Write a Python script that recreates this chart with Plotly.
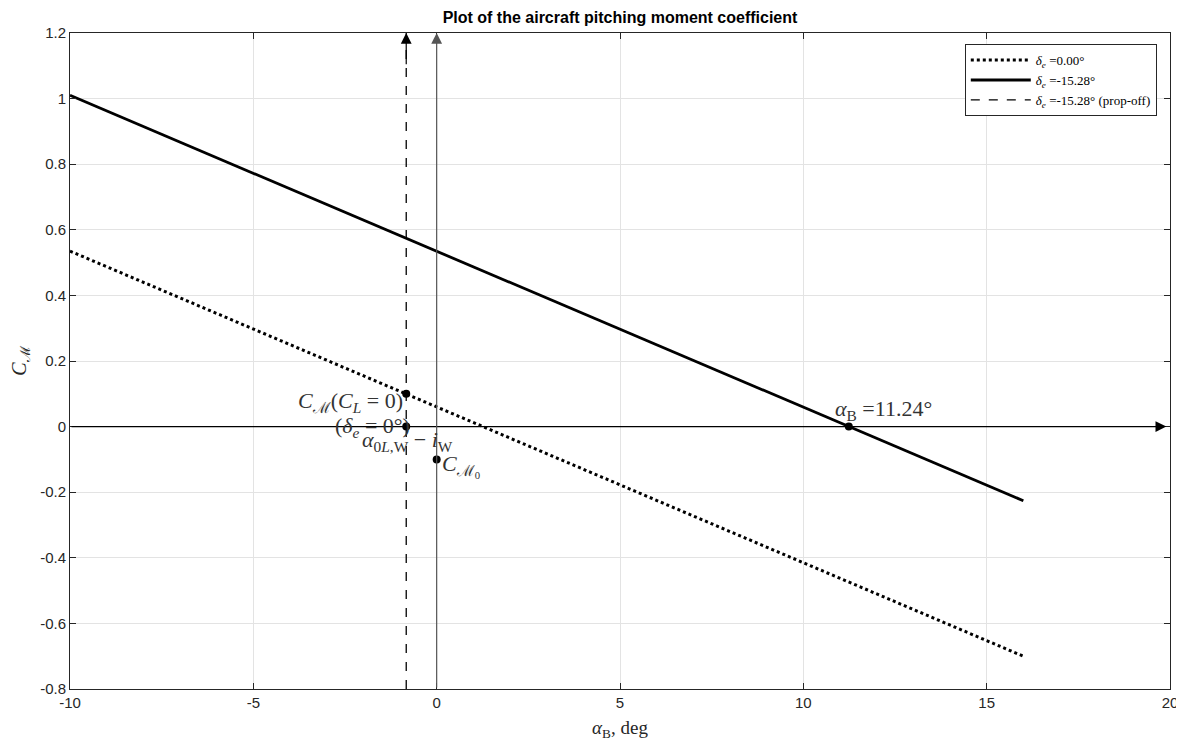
import plotly.graph_objects as go

# ---- data ----
alpha_range = [-10, 16]
cm_de0 = [0.535, -0.700]          # delta_e = 0.00 deg
cm_de = [1.010, -0.226]           # delta_e = -15.28 deg
alpha_propoff = [-0.83, -0.83]    # prop-off vertical (dashed)
cm_propoff = [-0.8, 1.2]
pts_x = [-0.83, -0.83, 0.0, 11.24]
pts_y = [0.10, 0.0, -0.10, 0.0]
x_ticks = [-10, -5, 0, 5, 10, 15, 20]
y_ticks = [-0.8, -0.6, -0.4, -0.2, 0, 0.2, 0.4, 0.6, 0.8, 1, 1.2]

SERIF = "Liberation Serif, DejaVu Serif, serif"
SANS = "Liberation Sans, Arial, Helvetica, sans-serif"

fig = go.Figure()
fig.add_trace(go.Scatter(x=alpha_range, y=cm_de0, mode="lines",
                         line=dict(color="black", width=3, dash="dot"),
                         name="<i>δ<sub>e</sub></i> =0.00°"))
fig.add_trace(go.Scatter(x=alpha_range, y=cm_de, mode="lines",
                         line=dict(color="black", width=2.8),
                         name="<i>δ<sub>e</sub></i> =-15.28°"))
fig.add_trace(go.Scatter(x=alpha_propoff, y=cm_propoff, mode="lines",
                         line=dict(color="black", width=1.3, dash="dash"),
                         name="<i>δ<sub>e</sub></i> =-15.28° (prop-off)"))
fig.add_trace(go.Scatter(x=pts_x, y=pts_y, mode="markers",
                         marker=dict(color="black", size=8), showlegend=False))

# axes-lines with arrows
arrow_col = "#555555"
fig.add_annotation(x=19.9, y=0, ax=-10, ay=0, xref="x", yref="y", axref="x", ayref="y",
                   text="", showarrow=True, arrowhead=2, arrowsize=1.8, arrowwidth=1.2,
                   arrowcolor="black")
fig.add_annotation(x=0, y=1.2, ax=0, ay=-0.8, xref="x", yref="y", axref="x", ayref="y",
                   text="", showarrow=True, arrowhead=2, arrowsize=1.8, arrowwidth=1.2,
                   arrowcolor=arrow_col)
fig.add_annotation(x=pts_x[0], y=1.2, ax=pts_x[0], ay=1.1, xref="x", yref="y", axref="x", ayref="y",
                   text="", showarrow=True, arrowhead=2, arrowsize=1.8, arrowwidth=1.2,
                   arrowcolor="black")

lab_font = dict(family=SERIF, size=22, color="#333333")
fig.add_annotation(x=-0.87, y=0.076, text="<i>C</i><sub>ℳ</sub>(<i>C<sub>L</sub></i> = 0)",
                   showarrow=False, xanchor="right", yanchor="middle", font=lab_font)
fig.add_annotation(x=-0.66, y=0.0, text="(<i>δ<sub>e</sub></i> = 0°)",
                   showarrow=False, xanchor="right", yanchor="middle", font=lab_font)
fig.add_annotation(x=-0.8, y=-0.045, text="<i>α</i><sub>0<i>L</i>,W</sub> − <i>i</i><sub>W</sub>",
                   showarrow=False, xanchor="center", yanchor="middle", font=lab_font)
fig.add_annotation(x=0.1, y=-0.12, text="<i>C</i><sub>ℳ<sub>0</sub></sub>",
                   showarrow=False, xanchor="left", yanchor="middle", font=lab_font)
fig.add_annotation(x=10.8, y=0.052, text="<i>α</i><sub>B</sub> =11.24°",
                   showarrow=False, xanchor="left", yanchor="middle", font=lab_font)

axis_common = dict(showgrid=True, gridcolor="#e3e3e3", gridwidth=1, zeroline=False,
                   showline=True, linecolor="#262626", linewidth=1, mirror="ticks",
                   ticks="inside", ticklen=6, tickcolor="#262626", automargin=False,
                   tickfont=dict(family=SANS, size=15, color="#262626"))

fig.update_xaxes(range=[-10, 20], tickvals=x_ticks, ticktext=[str(v) for v in x_ticks],
                 title=dict(text="<i>α</i><sub>B</sub>, deg", font=dict(family=SERIF, size=19, color="#262626"),
                            standoff=10),
                 **axis_common)
fig.update_yaxes(range=[-0.8, 1.2], tickvals=y_ticks,
                 ticktext=[("%g" % v) for v in y_ticks],
                 title=dict(text="<i>C</i><sub>ℳ</sub>", font=dict(family=SERIF, size=20, color="#262626"),
                            standoff=8),
                 **axis_common)

# page has an 8px body margin, so margins are shifted accordingly
fig.update_layout(
    width=1184, height=746,
    margin=dict(l=62, r=22, t=25, b=65),
    paper_bgcolor="white", plot_bgcolor="white",
    title=dict(text="<b>Plot of the aircraft pitching moment coefficient</b>",
               x=(62 + 1162) / 2 / 1184, xanchor="center", y=1 - 9 / 746, yanchor="middle",
               font=dict(family=SANS, size=16, color="black")),
    legend=dict(x=0.988, y=0.983, xanchor="right", yanchor="top",
                bgcolor="white", bordercolor="#262626", borderwidth=1,
                font=dict(family=SERIF, size=13, color="black"),
                tracegroupgap=0, itemwidth=60),
    showlegend=True,
)

fig.write_html("out.html")
